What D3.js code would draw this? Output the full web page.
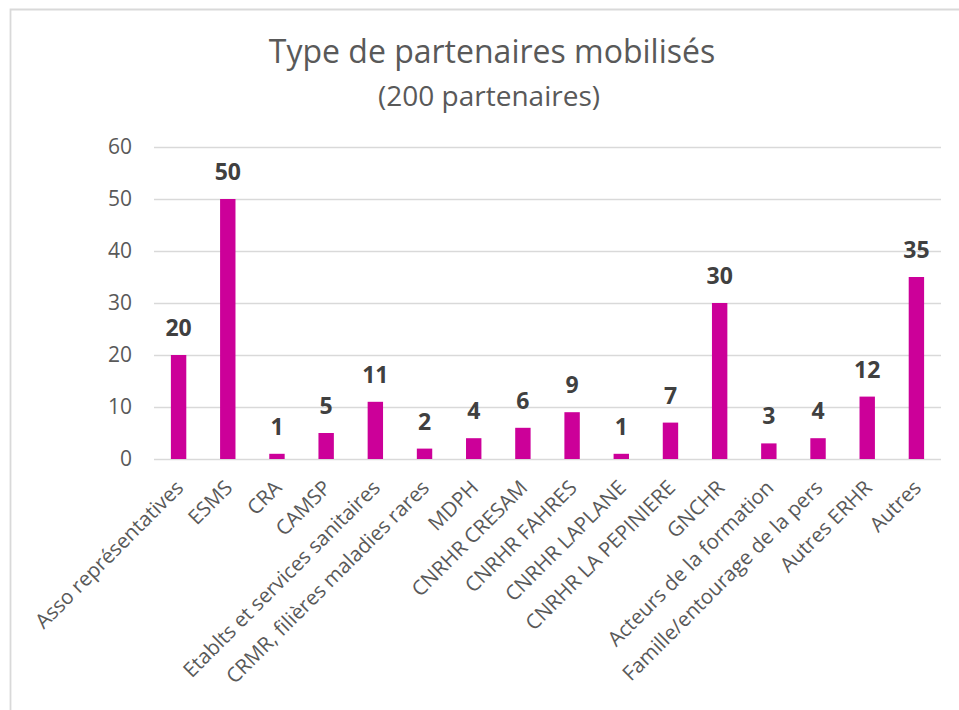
<!DOCTYPE html>
<html>
<head>
<meta charset="utf-8">
<script src="https://cdn.jsdelivr.net/npm/d3@7"></script>
<style>
  html, body { margin: 0; padding: 0; background: #fff; }
  svg { display: block; font-family: "Open Sans", sans-serif; }
</style>
</head>
<body>
<svg id="chart" width="959" height="710"></svg>
<script>
const categories = [
  "Asso représentatives", "ESMS", "CRA", "CAMSP",
  "Etablts et services sanitaires", "CRMR, filières maladies rares",
  "MDPH", "CNRHR CRESAM", "CNRHR FAHRES", "CNRHR LAPLANE",
  "CNRHR LA PEPINIERE", "GNCHR", "Acteurs de la formation",
  "Famille/entourage de la pers", "Autres ERHR", "Autres"
];
const values = [20, 50, 1, 5, 11, 2, 4, 6, 9, 1, 7, 30, 3, 4, 12, 35];
const yTicks = [0, 10, 20, 30, 40, 50, 60];
const titleText = "Type de partenaires mobilisés";
const subtitleText = "(200 partenaires)";

const svg = d3.select("#chart");
const W = 959, H = 710;
const plot = { left: 154, right: 941, top: 147, bottom: 459 };
const grey = "#d9d9d9", textGrey = "#595959", labelDark = "#404040", barColor = "#cc0099";

// chart border (cropped on right/bottom)
svg.append("path")
  .attr("d", `M10.5,${H + 5} L10.5,9.5 L${W + 5},9.5`)
  .attr("fill", "none").attr("stroke", grey).attr("stroke-width", 1.8);

const x = d3.scaleBand().domain(categories).range([plot.left, plot.right])
  .paddingInner(0.687).paddingOuter(0.3435);
const y = d3.scaleLinear().domain([0, 60]).range([plot.bottom, plot.top]);

// gridlines
svg.append("g").selectAll("line").data(yTicks).join("line")
  .attr("x1", plot.left).attr("x2", plot.right)
  .attr("y1", d => Math.round(y(d)) + 0.5).attr("y2", d => Math.round(y(d)) + 0.5)
  .attr("stroke", grey).attr("stroke-width", 1.3);

// y axis labels
const yAxis = d3.axisLeft(y).tickValues(yTicks).tickSize(0).tickPadding(22);
const gy = svg.append("g").attr("transform", `translate(${plot.left},0)`).call(yAxis);
gy.select(".domain").remove();
gy.selectAll("text").attr("font-size", 21).attr("fill", textGrey)
  .attr("font-family", "'Open Sans', sans-serif");

// bars
svg.append("g").selectAll("rect").data(values).join("rect")
  .attr("x", (d, i) => x(categories[i]))
  .attr("width", x.bandwidth())
  .attr("y", d => y(d))
  .attr("height", d => y(0) - y(d))
  .attr("fill", barColor);

// data labels
svg.append("g").selectAll("text").data(values).join("text")
  .attr("x", (d, i) => x(categories[i]) + x.bandwidth() / 2)
  .attr("y", d => y(d) - 19)
  .attr("text-anchor", "middle")
  .attr("font-size", 23).attr("font-weight", "bold").attr("fill", labelDark)
  .text(d => d);

// x axis category labels (rotated)
const xAxis = d3.axisBottom(x).tickSize(0).tickPadding(0);
const gx = svg.append("g").attr("transform", `translate(0,${plot.bottom})`).call(xAxis);
gx.select(".domain").remove();
gx.selectAll(".tick text")
  .attr("font-size", 20.5).attr("fill", textGrey)
  .attr("font-family", "'Open Sans', sans-serif")
  .attr("text-anchor", "end")
  .attr("dy", 0).attr("y", 0)
  .attr("transform", "translate(6,30) rotate(-45)");

// titles
svg.append("text").attr("x", 492).attr("y", 63).attr("text-anchor", "middle")
  .attr("font-size", 32).attr("fill", textGrey).text(titleText);
svg.append("text").attr("x", 489).attr("y", 106).attr("text-anchor", "middle")
  .attr("font-size", 28).attr("fill", textGrey).text(subtitleText);
</script>
</body>
</html>
